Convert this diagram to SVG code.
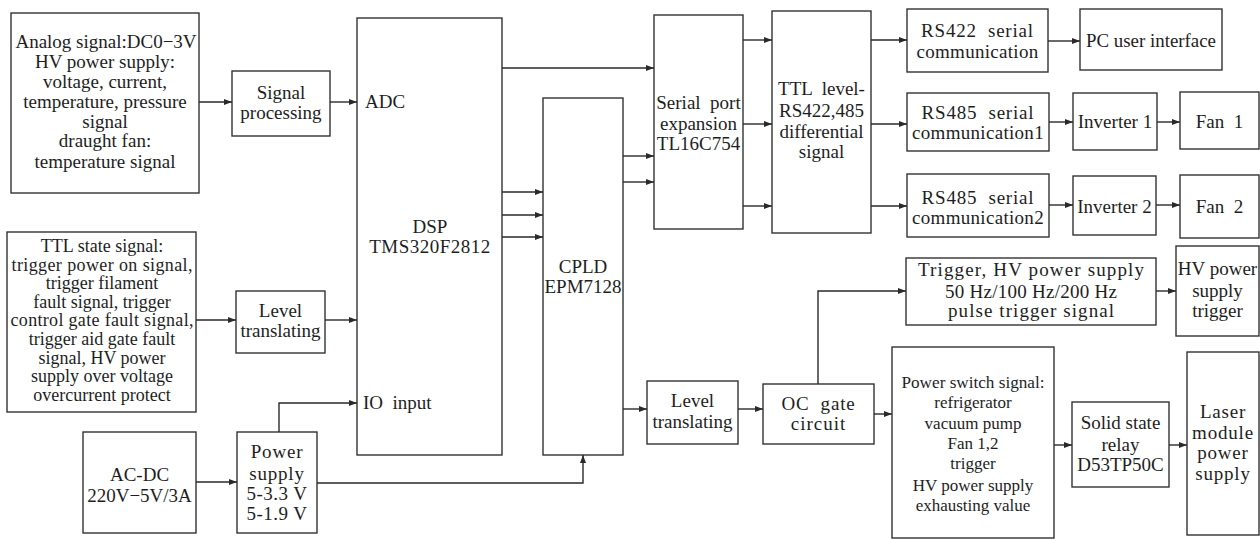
<svg xmlns="http://www.w3.org/2000/svg" width="1260" height="540" viewBox="0 0 1260 540" font-family="'Liberation Serif', 'DejaVu Serif', serif">
<defs>
<marker id="arr" markerUnits="userSpaceOnUse" markerWidth="9" markerHeight="7" refX="8" refY="3" orient="auto">
<path d="M0,0 L8,3 L0,6 z" fill="#2a2a2a"/>
</marker>
<style>
rect{fill:#fff;stroke:#333;stroke-width:1.4}
text{font-family:'Liberation Serif','DejaVu Serif',serif;font-size:19px;fill:#1e1e1e;text-anchor:middle}
.l{text-anchor:start}
.c{font-size:17px}
.s{font-size:18px}
#connectors path,#connectors line{fill:none;stroke:#2a2a2a;stroke-width:1.4}
.a{marker-end:url(#arr)}
</style>
</defs>
<rect x="0" y="0" width="1260" height="540" style="fill:#fff;stroke:none"/>

<g id="analog">
<rect x="11" y="13" width="188" height="180"/>
<text x="106" y="48">Analog signal:DC0−3V</text>
<text x="105" y="68">HV power supply:</text>
<text x="105" y="88">voltage, current,</text>
<text x="105" y="108">temperature, pressure</text>
<text x="105" y="128">signal</text>
<text x="105" y="147">draught fan:</text>
<text x="105" y="168">temperature signal</text>
</g>
<g id="sigproc">
<rect x="232" y="71" width="98" height="65"/>
<text x="281" y="99">Signal</text>
<text x="281" y="119">processing</text>
</g>
<g id="ttlstate">
<rect x="7" y="232" width="189" height="180"/>
<text class="s" x="102" y="252">TTL state signal:</text>
<text class="s" x="102" y="271" textLength="181" lengthAdjust="spacing">trigger power on signal,</text>
<text class="s" x="102" y="289">trigger filament</text>
<text class="s" x="102" y="308">fault signal, trigger</text>
<text class="s" x="102" y="326" textLength="183" lengthAdjust="spacing">control gate fault signal,</text>
<text class="s" x="102" y="345">trigger aid gate fault</text>
<text class="s" x="102" y="364">signal, HV power</text>
<text class="s" x="102" y="382">supply over voltage</text>
<text class="s" x="102" y="401">overcurrent protect</text>
</g>
<g id="level1">
<rect x="236" y="291" width="89" height="62"/>
<text x="280.5" y="317">Level</text>
<text x="280.5" y="337">translating</text>
</g>
<g id="acdc">
<rect x="83" y="432" width="113" height="101"/>
<text x="139.5" y="481">AC-DC</text>
<text x="139.5" y="502">220V−5V/3A</text>
</g>
<g id="power">
<rect x="237" y="432" width="80" height="101"/>
<text x="277" y="458" letter-spacing="0.8">Power</text>
<text x="277" y="480" letter-spacing="0.8">supply</text>
<text x="277" y="500" letter-spacing="0.5">5-3.3 V</text>
<text x="277" y="520" letter-spacing="0.5">5-1.9 V</text>
</g>
<g id="dsp">
<rect x="357" y="18" width="145" height="437"/>
<text class="l" x="365" y="108">ADC</text>
<text x="430" y="233">DSP</text>
<text x="430" y="253" letter-spacing="0.5">TMS320F2812</text>
<text class="l" x="363" y="409" xml:space="preserve">IO  input</text>
</g>
<g id="cpld">
<rect x="543" y="98" width="80" height="357"/>
<text x="583" y="273">CPLD</text>
<text x="583" y="293">EPM7128</text>
</g>
<g id="serial">
<rect x="654" y="15" width="89" height="214"/>
<text x="698.5" y="109" xml:space="preserve">Serial  port</text>
<text x="698.5" y="130">expansion</text>
<text x="698.5" y="150">TL16C754</text>
</g>
<g id="ttllevel">
<rect x="772" y="11" width="99" height="222"/>
<text x="821.5" y="95" xml:space="preserve">TTL  level-</text>
<text x="821.5" y="117">RS422,485</text>
<text x="821.5" y="138">differential</text>
<text x="821.5" y="158">signal</text>
</g>
<g id="rs422">
<rect x="907" y="9" width="141" height="63"/>
<text x="977.5" y="37" xml:space="preserve" letter-spacing="0.8">RS422  serial</text>
<text x="977.5" y="58" letter-spacing="0.3">communication</text>
</g>
<g id="pc">
<rect x="1080" y="9" width="142" height="61"/>
<text x="1151" y="47" textLength="130" lengthAdjust="spacingAndGlyphs">PC user interface</text>
</g>
<g id="rs485a">
<rect x="907" y="93" width="142" height="58"/>
<text x="978" y="119" xml:space="preserve" letter-spacing="0.8">RS485  serial</text>
<text x="978" y="139" letter-spacing="0.3">communication1</text>
</g>
<g id="inv1">
<rect x="1073" y="93" width="84" height="57"/>
<text x="1115" y="128">Inverter 1</text>
</g>
<g id="fan1">
<rect x="1180" y="92" width="79" height="57"/>
<text x="1219.5" y="128" xml:space="preserve">Fan  1</text>
</g>
<g id="rs485b">
<rect x="907" y="174" width="142" height="63"/>
<text x="978" y="204" xml:space="preserve" letter-spacing="0.8">RS485  serial</text>
<text x="978" y="224" letter-spacing="0.3">communication2</text>
</g>
<g id="inv2">
<rect x="1073" y="176" width="83" height="59"/>
<text x="1114.5" y="213">Inverter 2</text>
</g>
<g id="fan2">
<rect x="1180" y="175" width="79" height="63"/>
<text x="1219.5" y="213" xml:space="preserve">Fan  2</text>
</g>
<g id="trigger">
<rect x="906" y="258" width="250" height="67"/>
<text x="1031" y="276" textLength="226" lengthAdjust="spacing">Trigger, HV power supply</text>
<text x="1031" y="298" textLength="172" lengthAdjust="spacing">50 Hz/100 Hz/200 Hz</text>
<text x="1031" y="317" textLength="166" lengthAdjust="spacing">pulse trigger signal</text>
</g>
<g id="hvtrig">
<rect x="1176" y="246" width="83" height="90"/>
<text x="1217.5" y="275">HV power</text>
<text x="1217.5" y="297">supply</text>
<text x="1217.5" y="317">trigger</text>
</g>
<g id="level2">
<rect x="647" y="381" width="91" height="63"/>
<text x="692.5" y="407">Level</text>
<text x="692.5" y="428">translating</text>
</g>
<g id="ocgate">
<rect x="763" y="384" width="111" height="60"/>
<text x="818.5" y="410" xml:space="preserve" letter-spacing="0.8">OC  gate</text>
<text x="818.5" y="430" letter-spacing="1">circuit</text>
</g>
<g id="pswitch">
<rect x="892" y="347" width="162" height="191"/>
<text class="c" x="973" y="388" textLength="143" lengthAdjust="spacingAndGlyphs">Power switch signal:</text>
<text class="c" x="973" y="408">refrigerator</text>
<text class="c" x="973" y="429">vacuum pump</text>
<text class="c" x="973" y="449">Fan 1,2</text>
<text class="c" x="973" y="469">trigger</text>
<text class="c" x="973" y="491">HV power supply</text>
<text class="c" x="973" y="511">exhausting value</text>
</g>
<g id="ssr">
<rect x="1072" y="402" width="97" height="85"/>
<text x="1120.5" y="429">Solid state</text>
<text x="1120.5" y="451">relay</text>
<text x="1120.5" y="471">D53TP50C</text>
</g>
<g id="laser">
<rect x="1187" y="352" width="72" height="183"/>
<text x="1223" y="418" letter-spacing="0.8">Laser</text>
<text x="1223" y="439" letter-spacing="0.8">module</text>
<text x="1223" y="459" letter-spacing="0.8">power</text>
<text x="1223" y="480" letter-spacing="0.8">supply</text>
</g>

<g id="connectors">
<line class="a" x1="199" y1="102" x2="232" y2="102"/>
<line class="a" x1="330" y1="102" x2="357" y2="102"/>
<line class="a" x1="196" y1="320" x2="236" y2="320"/>
<line class="a" x1="325" y1="320" x2="357" y2="320"/>
<path class="a" d="M279,432 V403 H357"/>
<line class="a" x1="196" y1="482" x2="237" y2="482"/>
<path class="a" d="M317,483 H583 V455"/>
<line class="a" x1="502" y1="68" x2="654" y2="68"/>
<line class="a" x1="502" y1="192" x2="543" y2="192"/>
<line class="a" x1="502" y1="215" x2="543" y2="215"/>
<line class="a" x1="502" y1="237" x2="543" y2="237"/>
<line class="a" x1="623" y1="156" x2="654" y2="156"/>
<line class="a" x1="623" y1="182" x2="654" y2="182"/>
<line class="a" x1="743" y1="40" x2="772" y2="40"/>
<line class="a" x1="743" y1="124" x2="772" y2="124"/>
<line class="a" x1="743" y1="206" x2="772" y2="206"/>
<line class="a" x1="871" y1="40" x2="907" y2="40"/>
<line class="a" x1="871" y1="124" x2="907" y2="124"/>
<line class="a" x1="871" y1="206" x2="907" y2="206"/>
<line class="a" x1="1048" y1="41" x2="1080" y2="41"/>
<line class="a" x1="1049" y1="122" x2="1073" y2="122"/>
<line class="a" x1="1157" y1="122" x2="1180" y2="122"/>
<line class="a" x1="1049" y1="205" x2="1073" y2="205"/>
<line class="a" x1="1156" y1="205" x2="1180" y2="205"/>
<line class="a" x1="623" y1="409" x2="647" y2="409"/>
<line class="a" x1="738" y1="409" x2="763" y2="409"/>
<path class="a" d="M818,384 V291 H906"/>
<line class="a" x1="874" y1="414" x2="892" y2="414"/>
<line class="a" x1="1156" y1="291" x2="1176" y2="291"/>
<line class="a" x1="1054" y1="445" x2="1072" y2="445"/>
<line class="a" x1="1169" y1="445" x2="1187" y2="445"/>
</g>
</svg>
